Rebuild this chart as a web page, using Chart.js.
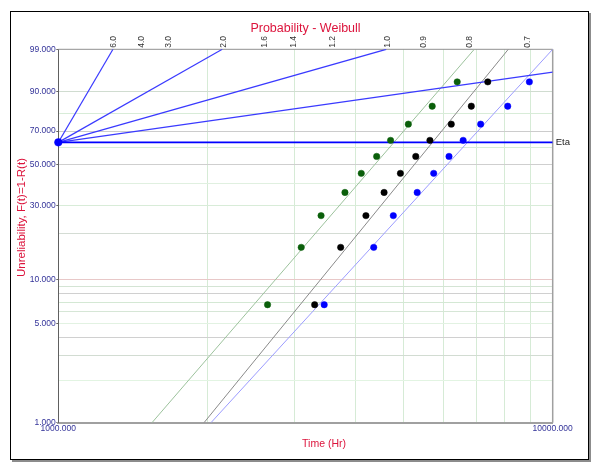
<!DOCTYPE html>
<html><head><meta charset="utf-8">
<script src="https://cdn.jsdelivr.net/npm/chart.js@4.4.1/dist/chart.umd.min.js"></script>
<style>html,body{margin:0;padding:0;background:#fff;overflow:hidden}#wrap{width:600px;height:468px;position:relative}</style>
</head><body><div id="wrap"><canvas id="c" width="600" height="468"></canvas></div>
<script>
const FONT = "'Liberation Sans', Arial, sans-serif";

// ---- data ----
const unreliabilityRanks = [6.73, 16.35, 25.96, 35.58, 45.19, 54.81, 64.42, 74.04, 83.65, 93.27];
const timesGreen = [2650, 3100, 3400, 3800, 4100, 4405, 4700, 5105, 5705, 6410];
const timesBlack = [3300, 3725, 4190, 4560, 4920, 5285, 5645, 6235, 6845, 7390];
const timesBlue  = [3450, 4345, 4760, 5320, 5745, 6170, 6590, 7150, 8110, 8970];
const fitProbs = [1, 99];
const fitGreenTimes = [1547, 6940];
const fitBlackTimes = [1971, 8132];
const fitBlueTimes  = [2036, 10000];
const etaTime = 1000;
const etaProb = 63.21;
const betaLineEndTimes = [1290, 2146, 4605, 10000];
const betaLineEndProbs = [99, 99, 99, 95.77];
const betaTickValues = [6.0, 4.0, 3.0, 2.0, 1.6, 1.4, 1.2, 1.0, 0.9, 0.8, 0.7];
const yGridPercents = [1, 2, 3, 4, 5, 6, 7, 8, 9, 10, 20, 30, 40, 50, 60, 70, 80, 90, 99];
const yLabelPercents = [1, 5, 10, 30, 50, 70, 90, 99];
const xGridTimes = [1000, 2000, 3000, 4000, 5000, 6000, 7000, 8000, 9000, 10000];
const xLabelTimes = [1000, 10000];

// ---- styles ----
const yGridColors = {
  1:'rgba(0,0,0,0)', 2:'#e2f4e2', 3:'#d2dcd2', 4:'#d0d0d0', 5:'#e2f2e2', 6:'#d6e6d6', 7:'#d4e8d4',
  8:'#d0d0d0', 9:'#d4e4d4', 10:'#e8c8c8', 20:'#d4dcd4', 30:'#d8ecd8', 40:'#e0f0e0', 50:'#cfcfcf',
  60:'#d8ecd8', 70:'#cccccc', 80:'#d8ecd8', 90:'#d0dcd0', 99:'rgba(0,0,0,0)'
};

// Weibull probability transform
const wb = p => Math.log(-Math.log(1 - p / 100));
const pt = (t, p) => ({ x: t, y: wb(p) });

const pointSet = (label, times, color) => ({
  label, data: times.map((t, i) => pt(t, unreliabilityRanks[i])),
  pointRadius: 3.2, pointHoverRadius: 3.2, backgroundColor: color, borderColor: color, borderWidth: 0.5,
  showLine: false, order: 1
});
const lineSet = (label, times, probs, color, width, order) => ({
  label, data: times.map((t, i) => pt(t, probs[i])), showLine: true, pointRadius: 0,
  borderColor: color, borderWidth: width, backgroundColor: color, order
});

const datasets = [
  pointSet('Green', timesGreen, '#0a5f0a'),
  pointSet('Black', timesBlack, '#000000'),
  pointSet('Blue', timesBlue, '#0000ff'),
  { label: 'Eta point', data: [pt(etaTime, etaProb)], pointRadius: 3.8, backgroundColor: '#0000ff',
    borderColor: '#0000ff', borderWidth: 0.5, clip: false, order: 0 },
  lineSet('Green fit', fitGreenTimes, fitProbs, '#9cc29c', 1, 5),
  lineSet('Black fit', fitBlackTimes, fitProbs, '#8a8a8a', 1, 5),
  lineSet('Blue fit', fitBlueTimes, fitProbs, '#9c9cff', 1, 5),
  lineSet('Eta', [etaTime, 10000], [etaProb, etaProb], '#0000ff', 1.6, 4)
];
betaLineEndTimes.forEach((t, i) => {
  datasets.push(lineSet('beta ' + i, [etaTime, t], [etaProb, betaLineEndProbs[i]], '#3a3aff', 1.2, 4));
});

const deco = {
  id: 'deco',
  beforeDraw(chart) {
    const c = chart.ctx;
    c.save();
    c.fillStyle = '#ffffff';
    c.fillRect(0, 0, chart.width, chart.height);
    c.strokeStyle = '#000000'; c.lineWidth = 1;
    c.strokeRect(10.5, 11.5, 578, 448);
    c.fillStyle = '#8c8c8c';
    c.fillRect(589, 13, 2, 449);
    c.fillRect(12, 460, 579, 2);
    c.restore();
  },
  beforeDatasetsDraw(chart) {
    const c = chart.ctx, a = chart.chartArea;
    c.save();
    c.strokeStyle = '#909090'; c.lineWidth = 1;
    c.beginPath(); c.moveTo(a.left, a.top); c.lineTo(a.right, a.top); c.stroke();
    c.strokeStyle = '#a0a0a0'; c.lineWidth = 1.5;
    c.beginPath(); c.moveTo(a.right, a.top); c.lineTo(a.right, a.bottom); c.stroke();
    c.restore();
  },
  afterDraw(chart) {
    const c = chart.ctx, a = chart.chartArea, xs = chart.scales.x, ys = chart.scales.y;
    c.save();
    // beta scale labels along the top
    c.font = '8.5px ' + FONT; c.fillStyle = '#333333';
    betaTickValues.forEach(b => {
      const t = etaTime * Math.exp(wb(99) / b);
      const px = xs.getPixelForValue(t);
      c.save(); c.translate(px + 1, a.top - 1.5); c.rotate(-Math.PI / 2);
      c.textAlign = 'left'; c.textBaseline = 'middle';
      c.fillText(b.toFixed(1), 0, 0); c.restore();
    });
    // Eta label
    c.font = '9.5px ' + FONT; c.fillStyle = '#222222'; c.textAlign = 'left'; c.textBaseline = 'middle';
    c.fillText('Eta', a.right + 3, ys.getPixelForValue(wb(etaProb)));
    // axis titles
    c.fillStyle = '#dc143c';
    c.font = '11.5px ' + FONT;
    c.save(); c.translate(22, 217.5); c.rotate(-Math.PI / 2); c.textAlign = 'center';
    c.fillText('Unreliability, F(t)=1-R(t)', 0, 0); c.restore();
    c.font = '10.5px ' + FONT; c.textAlign = 'center';
    c.fillText('Time (Hr)', 324, 444);
    c.restore();
  }
};

new Chart(document.getElementById('c'), {
  type: 'scatter',
  data: { datasets },
  options: {
    responsive: false, animation: false, devicePixelRatio: 1,
    layout: { padding: { left: 12, top: 12, right: 47.3, bottom: 0 } },
    plugins: {
      legend: { display: false }, tooltip: { enabled: false },
      title: { display: true, text: 'Probability - Weibull', color: '#dc143c', fullSize: false,
        font: { family: FONT, size: 12.5, weight: 'normal' }, padding: { top: 9, bottom: 13.3 } }
    },
    scales: {
      x: {
        type: 'logarithmic', min: 1000, max: 10000, position: 'bottom',
        afterBuildTicks: s => { s.ticks = xGridTimes.map(v => ({ value: v })); },
        afterFit: s => { s.height = 45.3; },
        ticks: { autoSkip: false, maxRotation: 0, minRotation: 0, padding: 1, color: '#333399',
          font: { family: FONT, size: 8.5 },
          callback: v => xLabelTimes.includes(v) ? Number(v).toFixed(3) : '' },
        grid: { drawTicks: false, lineWidth: 1,
          color: c => (c.tick && (c.tick.value === 1000 || c.tick.value === 10000)) ? 'rgba(0,0,0,0)' : '#d6ebd6' },
        border: { color: '#a0a0a0', width: 2 }
      },
      y: {
        type: 'linear', min: wb(1), max: wb(99),
        afterBuildTicks: s => { s.ticks = yGridPercents.map(p => ({ value: wb(p) })); },
        afterFit: s => { s.width = 46.3; },
        ticks: { autoSkip: false, padding: 0.5, color: '#333399', font: { family: FONT, size: 8.5 },
          callback: (v, i) => { const p = yGridPercents[i]; return yLabelPercents.includes(p) ? p.toFixed(3) : ''; } },
        grid: { drawTicks: true, tickLength: 2, lineWidth: 1,
          color: c => c.tick ? (yGridColors[yGridPercents[c.index]] || '#d8e8d8') : '#d8e8d8',
          tickColor: c => yLabelPercents.includes(yGridPercents[c.index]) ? '#666666' : 'rgba(0,0,0,0)' },
        border: { color: '#606060', width: 1 }
      }
    }
  },
  plugins: [deco]
});
</script></body></html>
